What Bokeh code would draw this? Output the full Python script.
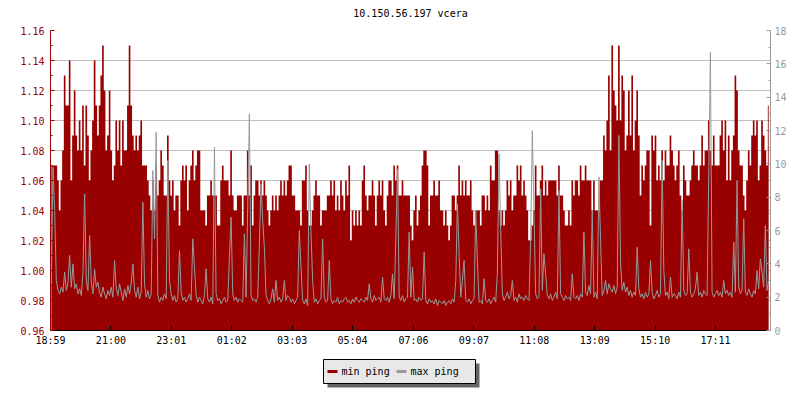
import numpy as np
from bokeh.plotting import figure
from bokeh.layouts import column
from bokeh.core.properties import value
from bokeh.models import Range1d, LinearAxis, FixedTicker, NumeralTickFormatter
from bokeh.embed import file_html
from bokeh.resources import INLINE

TITLE = "10.150.56.197 vcera"
START_LABEL = "18:59"
SAMPLE_MINUTES = 10 / 3
SERIES_NAMES = ["min ping", "max ping"]
TICK_LABELS = ["18:59", "21:00", "23:01", "01:02", "03:03", "05:04",
               "07:06", "09:07", "11:08", "13:09", "15:10", "17:11"]
LEFT_TICKS = [0.96, 0.98, 1.00, 1.02, 1.04, 1.06, 1.08, 1.10, 1.12, 1.14, 1.16]
LEFT_MINOR = [0.97, 0.99, 1.01, 1.03, 1.05, 1.07, 1.09, 1.11, 1.13, 1.15]
RIGHT_TICKS = [0, 2, 4, 6, 8, 10, 12, 14, 16, 18]
RIGHT_MINOR = [1, 3, 5, 7, 9, 11, 13, 15, 17]

# min ping (ms), one sample every 200 s starting 18:59
MIN_PING = [
    1.07, 1.07, 1.07, 1.07, 1.06, 1.04, 1.06, 1.08, 1.13, 1.11, 1.11, 1.14,
    1.06, 1.09, 1.12, 1.09, 1.08, 1.10, 1.08, 1.11, 1.07, 1.11, 1.09, 1.06,
    1.08, 1.10, 1.14, 1.11, 1.09, 1.11, 1.13, 1.15, 1.12, 1.08, 1.09, 1.12,
    1.08, 1.06, 1.07, 1.10, 1.08, 1.10, 1.07, 1.10, 1.08, 1.08, 1.11, 1.15,
    1.11, 1.09, 1.08, 1.09, 1.08, 1.09, 1.10, 1.07, 1.07, 1.07, 1.06, 1.05,
    1.04, 1.06, 1.04, 1.07, 1.05, 1.06, 1.08, 1.07, 1.05, 1.05, 1.09, 1.06,
    1.05, 1.06, 1.04, 1.05, 1.05, 1.03, 1.06, 1.07, 1.06, 1.07, 1.04, 1.06,
    1.07, 1.08, 1.06, 1.07, 1.08, 1.08, 1.04, 1.04, 1.04, 1.03, 1.05, 1.05,
    1.06, 1.05, 1.05, 1.05, 1.03, 1.03, 1.06, 1.07, 1.06, 1.06, 1.06, 1.05,
    1.08, 1.05, 1.04, 1.04, 1.05, 1.05, 1.05, 1.03, 1.05, 1.05, 1.08, 1.05,
    1.07, 1.03, 1.05, 1.06, 1.06, 1.05, 1.06, 1.05, 1.06, 1.05, 1.04, 1.03,
    1.04, 1.05, 1.04, 1.05, 1.04, 1.05, 1.06, 1.05, 1.06, 1.05, 1.06, 1.07,
    1.07, 1.05, 1.05, 1.04, 1.04, 1.04, 1.03, 1.06, 1.06, 1.07, 1.04, 1.03,
    1.03, 1.04, 1.05, 1.06, 1.05, 1.05, 1.03, 1.04, 1.04, 1.04, 1.05, 1.05,
    1.06, 1.05, 1.06, 1.04, 1.05, 1.04, 1.06, 1.05, 1.04, 1.06, 1.05, 1.07,
    1.02, 1.04, 1.03, 1.04, 1.03, 1.04, 1.03, 1.06, 1.07, 1.05, 1.04, 1.05,
    1.05, 1.06, 1.05, 1.03, 1.05, 1.06, 1.05, 1.06, 1.04, 1.03, 1.05, 1.06,
    1.06, 1.05, 1.07, 1.06, 1.07, 1.05, 1.05, 1.06, 1.05, 1.05, 1.05, 1.05,
    1.03, 1.02, 1.04, 1.05, 1.03, 1.04, 1.05, 1.07, 1.08, 1.08, 1.07, 1.03,
    1.05, 1.05, 1.06, 1.05, 1.05, 1.06, 1.04, 1.04, 1.03, 1.04, 1.03, 1.02,
    1.03, 1.05, 1.05, 1.04, 1.05, 1.07, 1.05, 1.06, 1.05, 1.06, 1.05, 1.05,
    1.06, 1.04, 1.03, 1.04, 1.04, 1.04, 1.03, 1.05, 1.05, 1.04, 1.05, 1.04,
    1.07, 1.06, 1.06, 1.08, 1.08, 1.04, 1.03, 1.04, 1.03, 1.04, 1.06, 1.05,
    1.06, 1.04, 1.05, 1.05, 1.07, 1.06, 1.07, 1.05, 1.06, 1.05, 1.04, 1.02,
    1.02, 1.03, 1.04, 1.07, 1.05, 1.05, 1.06, 1.07, 1.05, 1.06, 1.05, 1.06,
    1.06, 1.06, 1.06, 1.06, 1.05, 1.07, 1.05, 1.05, 1.04, 1.03, 1.03, 1.04,
    1.03, 1.06, 1.05, 1.06, 1.06, 1.05, 1.07, 1.06, 1.06, 1.07, 1.06, 1.06,
    1.06, 1.04, 1.06, 1.04, 1.04, 1.04, 1.06, 1.06, 1.09, 1.08, 1.10, 1.13,
    1.08, 1.15, 1.12, 1.11, 1.10, 1.15, 1.10, 1.13, 1.12, 1.08, 1.09, 1.12,
    1.09, 1.13, 1.08, 1.10, 1.12, 1.09, 1.05, 1.07, 1.06, 1.07, 1.08, 1.08,
    1.03, 1.09, 1.08, 1.09, 1.06, 1.07, 1.06, 1.08, 1.06, 1.08, 1.07, 1.07,
    1.09, 1.08, 1.07, 1.06, 1.07, 1.08, 1.05, 1.04, 1.07, 1.06, 1.05, 1.05,
    1.06, 1.07, 1.08, 1.07, 1.07, 1.06, 1.07, 1.09, 1.07, 1.08, 1.08, 1.10,
    1.08, 1.07, 1.09, 1.07, 1.07, 1.07, 1.09, 1.10, 1.08, 1.10, 1.06, 1.09,
    1.06, 1.08, 1.09, 1.13, 1.12, 1.08, 1.07, 1.07, 1.05, 1.04, 1.06, 1.08,
    1.07, 1.09, 1.10, 1.09, 1.10, 1.06, 1.07, 1.10, 1.09, 1.08, 1.07, 1.11,
]

# max ping (ms), same sampling
MAX_PING = [
    2.8, 9.8, 7.2, 3.0, 2.4, 2.2, 2.6, 2.3, 3.5, 2.4, 2.9, 4.5,
    2.6, 4.0, 2.5, 2.8, 2.2, 2.5, 2.1, 3.5, 8.2, 3.0, 2.4, 5.7,
    2.9, 2.2, 3.7, 2.6, 2.9, 2.3, 2.0, 2.6, 2.2, 1.9, 2.4, 2.1,
    2.6, 2.0, 4.2, 2.5, 2.1, 2.8, 2.3, 1.8, 2.5, 2.0, 2.7, 2.2,
    2.9, 4.0, 2.4, 2.0, 2.6, 1.9, 2.3, 7.7, 2.8, 2.0, 2.4, 1.9,
    2.2, 9.6, 5.5, 11.9, 2.1, 1.7, 2.0, 1.8, 2.2, 1.9, 10.2, 3.0,
    2.2, 1.8, 2.1, 1.7, 1.9, 4.8, 2.3, 1.8, 2.0, 1.7, 1.9, 2.2,
    1.8, 5.5, 3.8, 2.1, 1.7, 2.0, 1.8, 1.6, 2.1, 3.7, 1.9, 1.7,
    2.0, 1.6, 11.0, 2.2, 1.8, 1.9, 1.6, 1.8, 2.0, 1.7, 1.8, 4.4,
    6.8, 2.2, 1.8, 2.0, 1.7, 1.9, 1.8, 1.7, 5.8, 2.0, 7.5, 13.0,
    2.1, 1.8, 1.9, 1.7, 2.0, 5.2, 8.8, 6.6, 5.0, 2.1, 1.8, 1.6,
    1.9, 2.5, 1.7, 3.0, 1.8, 2.0, 1.7, 1.9, 3.0, 1.8, 2.1, 2.0,
    1.7, 1.9, 1.6, 1.8, 2.0, 6.0, 3.8, 1.8, 1.6, 1.9, 1.5, 10.0,
    5.9, 3.0, 1.7, 1.9, 1.6, 1.8, 1.9, 5.5, 2.0, 1.7, 1.8, 4.2,
    1.9, 1.6, 1.8, 1.7, 2.0, 1.6, 1.8, 1.7, 1.9, 2.0, 1.7, 1.8,
    1.6, 1.9, 1.7, 2.0, 1.8, 1.7, 1.9, 1.8, 1.7, 2.0, 1.8, 2.8,
    1.9, 1.7, 2.1, 1.8, 1.9, 2.0, 1.7, 3.2, 1.9, 1.8, 2.0, 1.7,
    2.1, 3.4, 1.9, 5.6, 9.7, 2.0, 1.8, 2.1, 1.7, 1.9, 2.0, 5.9,
    2.0, 3.8, 1.8, 1.9, 1.7, 2.0, 1.8, 1.9, 4.7, 1.8, 1.6, 1.9,
    1.7, 1.8, 1.6, 1.9, 1.5, 1.8, 1.7, 1.6, 1.8, 1.5, 1.7, 1.8,
    1.6, 1.9, 1.7, 3.0, 7.6, 4.6, 2.0, 3.0, 4.2, 1.8, 1.7, 1.9,
    1.6, 1.8, 1.9, 7.2, 4.1, 1.7, 1.8, 1.6, 3.1, 1.8, 1.7, 1.9,
    1.6, 1.8, 2.0, 1.7, 3.5, 10.6, 6.0, 2.2, 1.8, 2.0, 2.3, 1.9,
    2.1, 3.0, 1.8, 2.0, 1.7, 2.2, 1.9, 2.0, 1.8, 2.1, 1.9, 1.8,
    5.5, 12.0, 7.0, 2.2, 1.9, 2.0, 8.5, 2.4, 4.6, 3.4, 2.1, 1.9,
    2.2, 1.8, 2.0, 2.3, 1.9, 8.4, 2.2, 2.0, 1.8, 2.1, 1.9, 2.0,
    1.8, 3.4, 2.0, 1.9, 2.1, 1.8, 2.2, 2.0, 5.9, 2.3, 2.1, 2.7,
    2.2, 7.2, 2.0, 2.3, 1.9, 9.2, 5.4, 2.1, 2.4, 3.0, 2.2, 2.8,
    2.5, 2.3, 2.7, 2.2, 2.6, 11.7, 4.1, 2.4, 2.9, 2.3, 2.6, 2.1,
    2.4, 2.0, 2.3, 2.1, 5.0, 2.5, 2.0, 2.2, 1.9, 2.3, 2.0, 2.2,
    4.2, 2.3, 1.9, 2.1, 2.4, 2.0, 2.2, 10.2, 3.6, 2.1, 2.3, 1.9,
    3.2, 2.0, 2.2, 2.1, 1.9, 2.3, 2.0, 7.8, 2.4, 2.1, 2.2, 4.9,
    2.3, 2.0, 2.2, 2.5, 3.5, 2.1, 2.3, 2.0, 2.4, 2.2, 2.1, 9.4,
    16.7, 2.3, 2.0, 2.2, 2.4, 2.1, 2.3, 2.0, 3.0, 2.2, 2.4, 2.1,
    2.3, 2.0, 5.3, 2.3, 9.0, 2.6, 2.2, 2.4, 6.7, 2.3, 2.1, 2.5,
    2.2, 2.0, 2.4, 2.2, 3.6, 2.5, 4.3, 3.5, 2.6, 6.3, 2.4, 3.0,
]

FONT = "DejaVu Sans Mono"
RED = "#990000"
GRAY = "#999999"

# layout (pixels)
W = 800
TITLE_H = 22
MAIN_H = 328
LEG_H = 50
BORDER_L, BORDER_R = 50, 30
TITLE_X, TITLE_Y = 410, 9          # page-x, strip-y from strip bottom
# legend strip geometry, in page-x pixels / strip-y pixels (from strip bottom)
LEG_BOX = dict(left=323, right=475, bottom=17, top=41)
LEG_MID = 29
LEG_GLYPH_X = [(327, 337), (396, 406)]
LEG_TEXT_X = [341, 410]
SHADOW_OFFSET = 4


def minutes_after_start(label):
    h, m = map(int, label.split(":"))
    h0, m0 = map(int, START_LABEL.split(":"))
    return ((h * 60 + m) - (h0 * 60 + m0)) % 1440


def strip(height):
    s = figure(width=W, height=height, output_backend="svg", toolbar_location=None,
               x_range=Range1d(BORDER_L, W - BORDER_R), y_range=Range1d(0, height),
               min_border=0, min_border_left=BORDER_L, min_border_right=BORDER_R,
               min_border_top=0, min_border_bottom=0)
    s.axis.visible = False
    s.grid.visible = False
    s.outline_line_color = None
    s.background_fill_color = None
    s.border_fill_color = "white"
    return s


tick_pos = [minutes_after_start(l) for l in TICK_LABELS]
t_min = (np.arange(len(MIN_PING)) + 0.5) * SAMPLE_MINUTES
t_max = (np.arange(len(MAX_PING)) + 0.5) * SAMPLE_MINUTES

# ---- title strip ----
tp = strip(TITLE_H)
tp.text(x=[TITLE_X], y=[TITLE_Y], text=[TITLE], text_font=value(FONT),
        text_font_size="10px", text_color="black", text_baseline="middle",
        text_align="center")

# ---- main chart ----
p = figure(width=W, height=MAIN_H, output_backend="svg", toolbar_location=None,
           x_range=Range1d(0, 1442), y_range=Range1d(0.96, 1.16),
           min_border_left=BORDER_L, min_border_right=BORDER_R, min_border_top=8,
           min_border_bottom=20)
p.outline_line_color = None
p.background_fill_color = "white"
p.border_fill_color = "white"

p.extra_y_ranges = {"right": Range1d(0, 18)}

p.xgrid.visible = False
p.ygrid.grid_line_color = "#c0c0c0"
p.ygrid.grid_line_width = 1

xa = p.xaxis[0]
xa.ticker = FixedTicker(ticks=tick_pos)
xa.major_label_overrides = {t: lab for t, lab in zip(tick_pos, TICK_LABELS)}
xa.major_tick_in = 5
xa.major_tick_out = 0
xa.minor_tick_line_color = None
xa.axis_line_color = "black"
xa.major_tick_line_color = "black"
xa.major_label_text_font = FONT
xa.major_label_text_font_size = "10px"
xa.major_label_text_color = "black"
xa.major_label_standoff = 4

ya = p.yaxis[0]
ya.ticker = FixedTicker(ticks=LEFT_TICKS, minor_ticks=LEFT_MINOR)
ya.formatter = NumeralTickFormatter(format="0.00")
ya.axis_line_color = RED
ya.major_tick_line_color = RED
ya.minor_tick_line_color = RED
ya.major_tick_in = 4
ya.major_tick_out = 0
ya.minor_tick_in = 2
ya.minor_tick_out = 0
ya.major_label_text_color = RED
ya.major_label_text_font = FONT
ya.major_label_text_font_size = "10px"
ya.major_label_standoff = 6

ra = LinearAxis(y_range_name="right",
                ticker=FixedTicker(ticks=RIGHT_TICKS, minor_ticks=RIGHT_MINOR))
ra.axis_line_color = GRAY
ra.major_tick_line_color = GRAY
ra.minor_tick_line_color = GRAY
ra.major_tick_in = 4
ra.major_tick_out = 0
ra.minor_tick_in = 2
ra.minor_tick_out = 0
ra.major_label_text_color = GRAY
ra.major_label_text_font = FONT
ra.major_label_text_font_size = "10px"
ra.major_label_standoff = 4
p.add_layout(ra, "right")

if hasattr(p, "varea_step"):
    p.varea_step(x=t_min, y1=0.96, y2=MIN_PING, step_mode="center",
                 fill_color=RED)
else:
    p.vbar(x=t_min, width=SAMPLE_MINUTES, bottom=0.96, top=MIN_PING,
           fill_color=RED, line_color=RED, line_width=0.5)

p.line(x=t_max, y=MAX_PING, line_color=GRAY, line_width=1,
       y_range_name="right")

# ---- legend strip ----
lp = strip(LEG_H)
lp.quad(left=LEG_BOX["left"] + SHADOW_OFFSET, right=LEG_BOX["right"] + SHADOW_OFFSET,
        bottom=LEG_BOX["bottom"] - SHADOW_OFFSET, top=LEG_BOX["top"] - SHADOW_OFFSET,
        fill_color="#666666", line_color=None)
lp.quad(left=LEG_BOX["left"], right=LEG_BOX["right"],
        bottom=LEG_BOX["bottom"], top=LEG_BOX["top"],
        fill_color="#e8e8e8", line_color="black", line_width=1)
lp.segment(x0=[g[0] for g in LEG_GLYPH_X], x1=[g[1] for g in LEG_GLYPH_X],
           y0=[LEG_MID, LEG_MID], y1=[LEG_MID, LEG_MID],
           line_color=[RED, GRAY], line_width=3)
lp.text(x=LEG_TEXT_X, y=[LEG_MID, LEG_MID], text=SERIES_NAMES,
        text_font=value(FONT), text_font_size="10px", text_color="black",
        text_baseline="middle", text_align="left")

layout = column(tp, p, lp, spacing=0)
open("out.html", "w").write(file_html(layout, INLINE))
